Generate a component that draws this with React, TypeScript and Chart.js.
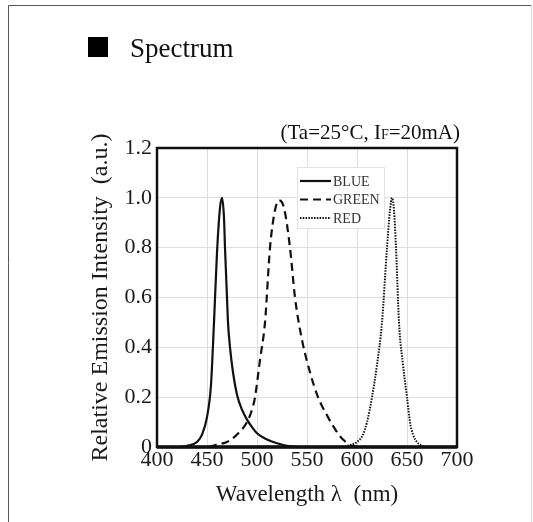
import React, { useEffect, useRef } from "react";
import { Chart, registerables } from "chart.js";

Chart.register(...registerables);

const xTicks = [400, 450, 500, 550, 600, 650, 700];
const yTickLabels = ["0", "0.2", "0.4", "0.6", "0.8", "1.0", "1.2"];

const blueWavelengths = [400, 420, 430, 440, 445, 450, 454, 457, 460, 463, 465, 467, 468, 470, 471, 473, 476, 480, 485, 490, 495, 500, 510, 520, 530, 550, 700];
const blueValues = [0, 0, 0.005, 0.02, 0.05, 0.12, 0.25, 0.5, 0.78, 0.96, 1.0, 0.92, 0.8, 0.6, 0.5, 0.4, 0.3, 0.21, 0.15, 0.11, 0.08, 0.055, 0.03, 0.015, 0.005, 0, 0];

const greenWavelengths = [400, 450, 460, 470, 480, 490, 495, 498, 503, 508, 513, 518, 522, 527, 533, 538, 545, 553, 561, 571, 580, 586, 595, 610, 700];
const greenValues = [0, 0, 0.01, 0.02, 0.05, 0.1, 0.15, 0.2, 0.35, 0.5, 0.8, 0.95, 0.99, 0.96, 0.8, 0.6, 0.43, 0.3, 0.2, 0.12, 0.06, 0.03, 0.005, 0, 0];

const redWavelengths = [400, 580, 595, 600, 606, 610, 615, 620, 625, 630, 633, 635, 637, 639, 642, 646, 650, 653, 656, 660, 665, 670, 700];
const redValues = [0, 0, 0.01, 0.02, 0.05, 0.1, 0.2, 0.33, 0.5, 0.8, 0.95, 1.0, 0.95, 0.8, 0.5, 0.33, 0.2, 0.1, 0.05, 0.02, 0.005, 0, 0];

const seriesLabels = ["BLUE", "GREEN", "RED"];

const SERIF = "'Liberation Serif', 'Times New Roman', serif";

function toPoints(xs: number[], ys: number[]) {
  return xs.map((x, i) => ({ x, y: ys[i] }));
}

const decorPlugin = {
  id: "decor",
  beforeDraw(chart: any) {
    const ctx = chart.ctx;
    ctx.save();
    ctx.fillStyle = "#ffffff";
    ctx.fillRect(0, 0, chart.width, chart.height);
    // frame
    ctx.strokeStyle = "#555";
    ctx.lineWidth = 1;
    ctx.beginPath();
    ctx.moveTo(8.5, chart.height);
    ctx.lineTo(8.5, 5.5);
    ctx.lineTo(531.5, 5.5);
    ctx.stroke();
    ctx.strokeStyle = "#d8d8d8";
    ctx.beginPath();
    ctx.moveTo(531.5, 5.5);
    ctx.lineTo(531.5, chart.height);
    ctx.stroke();
    // title
    ctx.fillStyle = "#000";
    ctx.fillRect(88, 37, 20, 20);
    ctx.fillStyle = "#111";
    ctx.font = `27px ${SERIF}`;
    ctx.textBaseline = "alphabetic";
    ctx.textAlign = "left";
    ctx.fillText("Spectrum", 130, 57);
    // subtitle (Ta=25°C, IF=20mA) with subscript F
    const big = `21px ${SERIF}`;
    const small = `14px ${SERIF}`;
    const segs = [
      { t: "(Ta=25°C, I", f: big },
      { t: "F", f: small },
      { t: "=20mA)", f: big },
    ];
    let total = 0;
    for (const s of segs) {
      ctx.font = s.f;
      total += ctx.measureText(s.t).width;
    }
    let x = 460 - total;
    for (const s of segs) {
      ctx.font = s.f;
      ctx.fillText(s.t, x, 139);
      x += ctx.measureText(s.t).width;
    }
    ctx.restore();
  },
  afterDatasetsDraw(chart: any) {
    const ctx = chart.ctx;
    const a = chart.chartArea;
    ctx.save();
    // plot frame
    ctx.strokeStyle = "#111";
    ctx.lineWidth = 2.5;
    ctx.strokeRect(a.left, a.top, a.right - a.left, a.bottom - a.top);
    ctx.lineWidth = 3.5;
    ctx.beginPath();
    ctx.moveTo(a.left, a.bottom);
    ctx.lineTo(a.right, a.bottom);
    ctx.stroke();
    // legend
    const bx = 297, by = 167, bw = 87, bh = 61;
    ctx.fillStyle = "#fff";
    ctx.fillRect(bx, by, bw, bh);
    ctx.strokeStyle = "#e2e2e2";
    ctx.lineWidth = 1;
    ctx.strokeRect(bx + 0.5, by + 0.5, bw, bh);
    chart.data.datasets.forEach((ds: any, i: number) => {
      const y = 181 + i * 18.5;
      ctx.strokeStyle = "#111";
      ctx.lineWidth = ds.borderWidth;
      ctx.setLineDash(ds.borderDash || []);
      ctx.beginPath();
      ctx.moveTo(300, y);
      ctx.lineTo(331, y);
      ctx.stroke();
      ctx.setLineDash([]);
      ctx.fillStyle = "#333";
      ctx.font = `14px ${SERIF}`;
      ctx.textBaseline = "middle";
      ctx.textAlign = "left";
      ctx.fillText(ds.label, 333, y + 1);
    });
    ctx.restore();
  },
};

export default function App() {
  const ref = useRef<HTMLCanvasElement | null>(null);

  useEffect(() => {
    if (!ref.current) return;
    const chart = new Chart(ref.current, {
      type: "line",
      data: {
        datasets: [
          {
            label: seriesLabels[0],
            data: toPoints(blueWavelengths, blueValues),
            borderColor: "#111",
            borderWidth: 2.2,
            pointRadius: 0,
            cubicInterpolationMode: "monotone",
          },
          {
            label: seriesLabels[1],
            data: toPoints(greenWavelengths, greenValues),
            borderColor: "#111",
            borderWidth: 2.2,
            borderDash: [8, 5],
            pointRadius: 0,
            cubicInterpolationMode: "monotone",
          },
          {
            label: seriesLabels[2],
            data: toPoints(redWavelengths, redValues),
            borderColor: "#111",
            borderWidth: 2,
            borderDash: [1.5, 1.3],
            pointRadius: 0,
            cubicInterpolationMode: "monotone",
          },
        ],
      } as any,
      options: {
        animation: false,
        responsive: false,
        events: [],
        layout: { padding: { left: 0, right: 76, top: 148, bottom: 0 } },
        plugins: {
          legend: { display: false },
          tooltip: { enabled: false },
        },
        scales: {
          x: {
            type: "linear",
            min: 400,
            max: 700,
            afterFit: (s: any) => {
              s.height = 75;
            },
            afterBuildTicks: (s: any) => {
              s.ticks = xTicks.map((v) => ({ value: v }));
            },
            ticks: {
              padding: 0,
              color: "#1a1a1a",
              font: { family: SERIF, size: 22 },
              maxRotation: 0,
              autoSkip: false,
            },
            grid: { color: "#dedede", lineWidth: 1, drawTicks: false },
            border: { display: false },
            title: {
              display: true,
              text: "Wavelength λ  (nm)",
              color: "#1a1a1a",
              font: { family: SERIF, size: 23 },
              padding: { top: 0, bottom: 13 },
            },
          },
          y: {
            type: "linear",
            min: 0,
            max: 1.2,
            afterFit: (s: any) => {
              s.width = 157;
            },
            afterBuildTicks: (s: any) => {
              s.ticks = yTickLabels.map((_, i) => ({ value: i * 0.2 }));
            },
            ticks: {
              padding: 5,
              color: "#1a1a1a",
              font: { family: SERIF, size: 22 },
              callback: (_v: any, i: number) => yTickLabels[i],
            },
            grid: { color: "#dedede", lineWidth: 1, drawTicks: false },
            border: { display: false },
            title: {
              display: true,
              text: "Relative Emission Intensity  (a.u.)",
              color: "#1a1a1a",
              font: { family: SERIF, size: 24 },
              padding: { top: 86, bottom: 0 },
            },
          },
        },
      } as any,
      plugins: [decorPlugin],
    });
    return () => chart.destroy();
  }, []);

  return (
    <div style={{ position: "absolute", left: 0, top: 0, width: 533, height: 522 }}>
      <canvas ref={ref} width={533} height={522} style={{ width: 533, height: 522, display: "block" }} />
    </div>
  );
}
